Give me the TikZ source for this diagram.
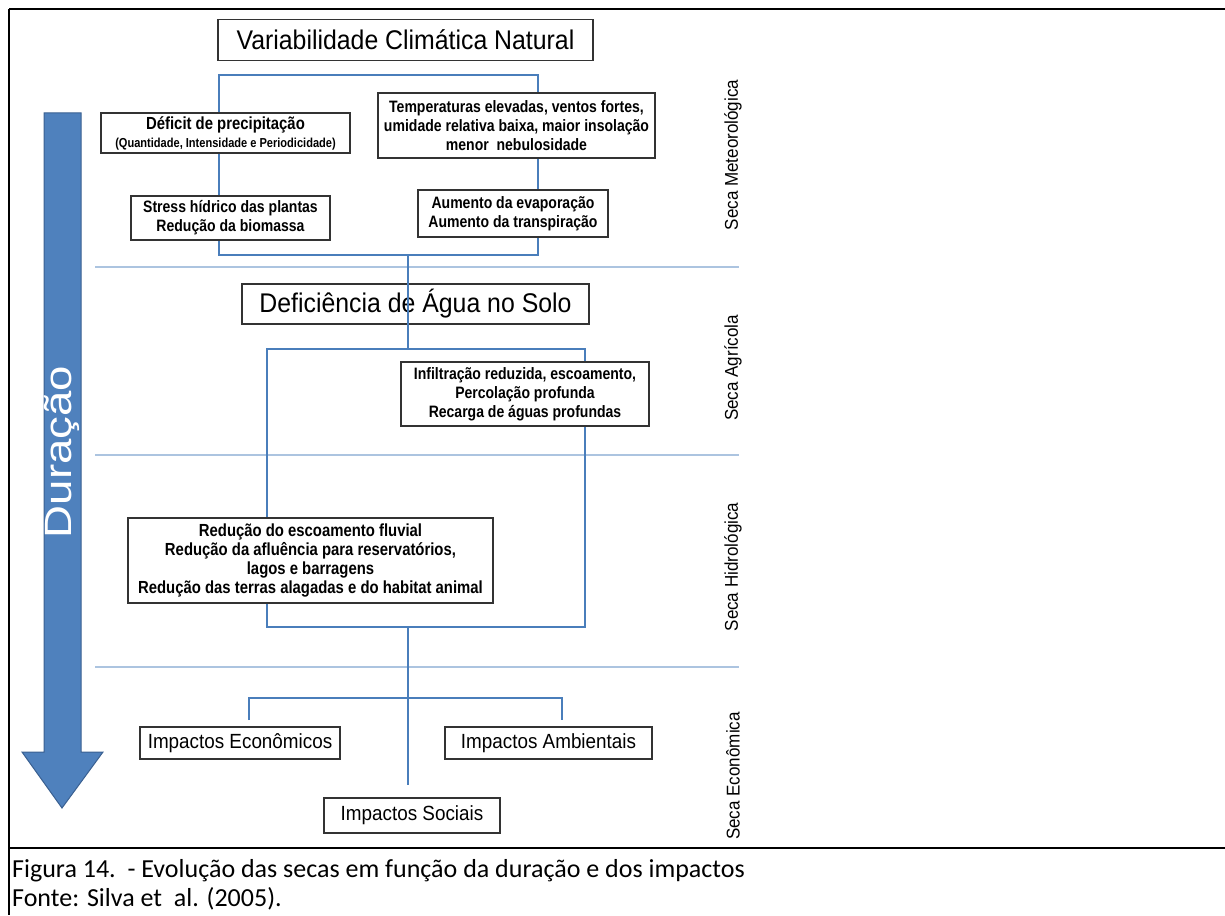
\documentclass[tikz,border=0pt]{standalone}
\usepackage{fontspec}
\setmainfont{Liberation Sans}
\newfontfamily\caixabf[FakeStretch=0.85]{Liberation Sans Bold}
\newfontfamily\estreita[FakeStretch=0.92]{Liberation Sans}
\newfontfamily\legenda{Carlito}
\newfontfamily\duracao[FakeStretch=1.2]{Liberation Sans}
\definecolor{azul}{RGB}{74,126,187}
\definecolor{azulclaro}{RGB}{172,196,224}
\definecolor{seta}{RGB}{79,129,189}
\definecolor{setaborda}{RGB}{58,96,145}

\begin{document}
\begin{tikzpicture}[x=1pt,y=-1pt]
  \tikzstyle{caixa}=[draw=black!80,line width=1.4pt,fill=white,inner sep=0pt,align=center]
  \tikzstyle{texto}=[font=\caixabf\fontsize{16.5}{19}\selectfont]
  \tikzstyle{titulo}=[font=\estreita\fontsize{27}{30}\selectfont]
  \tikzstyle{impacto}=[font=\estreita\fontsize{20.5}{23}\selectfont]
  \tikzstyle{liga}=[draw=azul,line width=2.2pt]
  \tikzstyle{faixa}=[draw=azulclaro,line width=1.8pt]
  \tikzstyle{seca}=[rotate=90,font=\estreita\fontsize{18.5}{20}\selectfont]
  \useasboundingbox (0,0) rectangle (1225,915);

  \draw[line width=2pt] (9,9) -- (1225,9);
  \draw[line width=2pt] (9,9) -- (9,915);
  \draw[line width=2pt] (9,848) -- (1225,848);

  \filldraw[fill=seta,draw=setaborda,line width=1pt] (44,113) -- (81,113) -- (81,752) -- (103,752)
    -- (62,808) -- (22,752) -- (44,752) -- cycle;
  \node[rotate=90,text=white,font=\duracao\fontsize{38}{40}\selectfont] (dur) at (62,452) {Duração};

  \foreach \y in {267,455,667}
    \draw[faixa] (95,\y) -- (739,\y);
  \foreach \y/\t in {155/Seca Meteorológica,368/Seca Agrícola,567/Seca Hidrológica,776/Seca Econômica}
    \node[seca] (seca\y) at (733,\y) {\t};

  \coordinate (r1a) at (219,75);
  \coordinate (r1b) at (538,255);
  \coordinate (r2a) at (267,349);
  \coordinate (r2b) at (585,627);
  \draw[liga] (r1a) rectangle (r1b);
  \draw[liga] (r2a) rectangle (r2b);

  \node[caixa,titulo,minimum width=375pt,minimum height=41pt] (var) at (405.5,40) {Variabilidade Climática Natural};
  \node[caixa,texto,minimum width=249pt,minimum height=40pt] (def) at (225.5,133)
    {{\fontsize{17.5}{19}\selectfont Déficit de precipitação}\\[-1pt]{\fontsize{13}{15}\selectfont (Quantidade, Intensidade e Periodicidade)}};
  \node[caixa,texto,minimum width=277pt,minimum height=65pt] (temp) at (516.5,125.5)
    {Temperaturas elevadas, ventos fortes,\\umidade relativa baixa, maior insolação\\menor\ \ nebulosidade};
  \node[caixa,texto,minimum width=199pt,minimum height=44pt] (stress) at (230.5,218)
    {Stress hídrico das plantas\\Redução da biomassa};
  \node[caixa,texto,minimum width=190pt,minimum height=47pt] (aum) at (513,213.5)
    {Aumento da evaporação\\Aumento da transpiração};
  \node[caixa,titulo,minimum width=347pt,minimum height=40pt] (solo) at (415.5,304) {Deficiência de Água no Solo};
  \node[caixa,texto,minimum width=248pt,minimum height=64pt] (infil) at (525,394)
    {Infiltração reduzida, escoamento,\\Percolação profunda\\Recarga de águas profundas};
  \node[caixa,texto,font=\caixabf\fontsize{17.5}{19}\selectfont,minimum width=365pt,minimum height=85pt] (hidro) at (310.5,560.5)
    {Redução do escoamento fluvial\\Redução da afluência para reservatórios,\\lagos e barragens\\Redução das terras alagadas e do habitat animal};
  \node[caixa,impacto,minimum width=200pt,minimum height=32pt] (econ) at (240,743) {Impactos Econômicos};
  \node[caixa,impacto,minimum width=207pt,minimum height=32pt] (amb) at (548.5,743) {Impactos Ambientais};
  \node[caixa,impacto,minimum width=176pt,minimum height=35pt] (soc) at (412,815.5) {Impactos Sociais};

  \coordinate (m1) at (408,255);
  \coordinate (m2) at (408,349);
  \coordinate (m3) at (408,627);
  \coordinate (m4) at (408,785);
  \coordinate (e1) at (249,720);
  \coordinate (e2) at (562,720);
  \draw[liga] (m1) -- (m2);
  \draw[liga] (m3) -- (m4);
  \draw[liga] (e1) -- ++(0,-22) -| (e2);

  \node[anchor=base west,inner sep=0pt,font=\legenda\fontsize{26}{30}\selectfont] (fig) at (12,877)
    {Figura 14.\ \ - Evolução das secas em função da duração e dos impactos};
  \node[anchor=base west,inner sep=0pt,font=\legenda\fontsize{26}{30}\selectfont] (fonte) at (12,906)
    {Fonte: Silva et\ \ al. (2005).};
\end{tikzpicture}
\end{document}
